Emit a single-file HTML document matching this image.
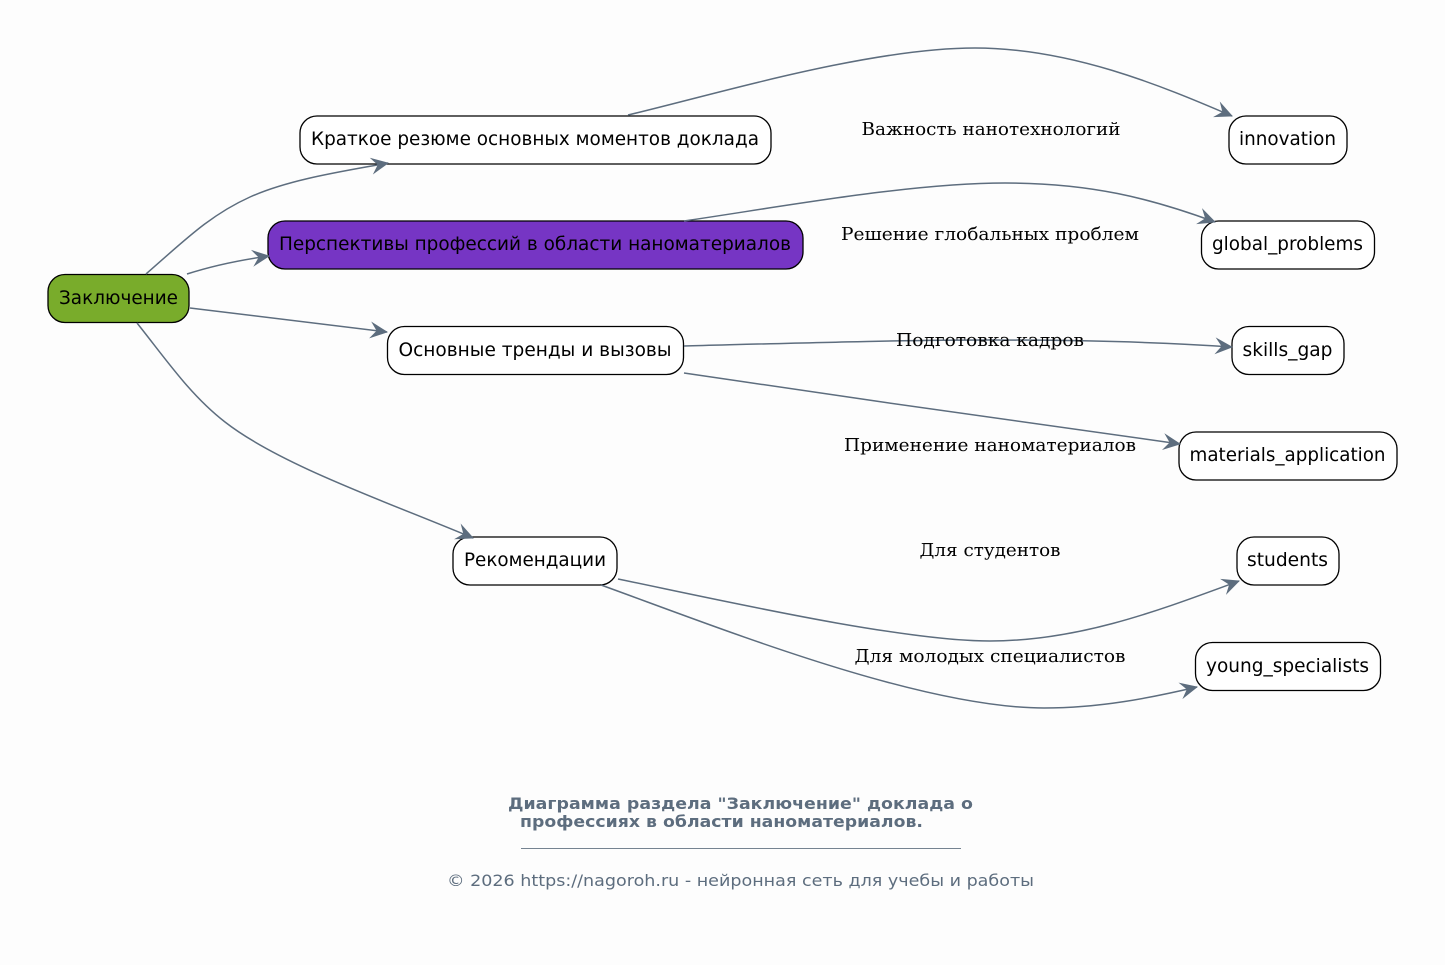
<!DOCTYPE html>
<html><head><meta charset="utf-8"><style>
html,body{margin:0;padding:0;background:#fdfdfd}
svg{display:block}
.n{fill:#fff;stroke:#000;stroke-width:1.3}
.t{font:19px "DejaVu Sans",sans-serif;fill:#000;text-anchor:middle}
.l{font:18px "DejaVu Serif","Liberation Serif",serif;fill:#000;text-anchor:middle}
.e{fill:none;stroke:#5d6d7e;stroke-width:1.5;marker-end:url(#a)}
.c{font:16px "DejaVu Sans",sans-serif;fill:#5d6d7e}
.b{font:bold 16px "DejaVu Sans",sans-serif;fill:#5d6d7e}
</style></head><body>
<svg width="1445" height="965" viewBox="0 0 1445 965" xmlns="http://www.w3.org/2000/svg">
<defs><marker id="a" markerUnits="userSpaceOnUse" markerWidth="24" markerHeight="24" viewBox="0 0 24 24" refX="20" refY="12" orient="auto" overflow="visible"><path d="M21,12 L3,3.5 L9.500,12 L3,20.500 Z" fill="#5d6d7e"/></marker></defs>
<rect width="1445" height="965" fill="#fdfdfd"/>
<rect x="48" y="274.500" width="141" height="48" rx="17" class="n" style="fill:#79ac2b"/>
<rect x="300" y="116" width="471" height="48" rx="17" class="n"/>
<rect x="268" y="221" width="535" height="48" rx="17" class="n" style="fill:#7635c4"/>
<rect x="387.500" y="326.500" width="296" height="48" rx="17" class="n"/>
<rect x="453" y="537" width="164" height="48" rx="17" class="n"/>
<rect x="1229" y="116" width="118" height="48" rx="17" class="n"/>
<rect x="1201.500" y="221" width="173" height="48" rx="17" class="n"/>
<rect x="1232" y="326.500" width="112" height="48" rx="17" class="n"/>
<rect x="1179" y="432" width="218" height="48" rx="17" class="n"/>
<rect x="1237" y="537" width="102" height="48" rx="17" class="n"/>
<rect x="1195.500" y="642.500" width="185" height="48" rx="17" class="n"/>
<path class="e" d="M146,274 C185,240 210,215 250,197 C290,179 345,171 388,163"/>
<path class="e" d="M187,274 C215,265 240,260 269,256"/>
<path class="e" d="M190,308 L387,332"/>
<path class="e" d="M137,323 C165,358 190,395 225,422 C280,465 390,503 473,538"/>
<path class="e" d="M628,115 C720,93 870,48 975,48 C1070,48 1160,85 1232,116"/>
<path class="e" d="M684,221 C780,207 910,183 1005,183 C1090,183 1150,198 1215,222"/>
<path class="e" d="M684,346 C800,343 900,340 990,340 C1080,340 1160,342 1232,347"/>
<path class="e" d="M684,373 C850,398 1010,420 1180,444"/>
<path class="e" d="M618,579 C720,600 900,641 990,641 C1080,641 1160,610 1239,581"/>
<path class="e" d="M601,585 C720,628 920,708 1044,708 C1100,708 1150,698 1197,687"/>
<text class="t" x="118.500" y="304" textLength="119" lengthAdjust="spacingAndGlyphs">Заключение</text>
<text class="t" x="535" y="145" textLength="448" lengthAdjust="spacingAndGlyphs">Краткое резюме основных моментов доклада</text>
<text class="t" x="535" y="250" textLength="512" lengthAdjust="spacingAndGlyphs">Перспективы профессий в области наноматериалов</text>
<text class="t" x="535" y="356" textLength="273" lengthAdjust="spacingAndGlyphs">Основные тренды и вызовы</text>
<text class="t" x="535" y="566" textLength="142" lengthAdjust="spacingAndGlyphs">Рекомендации</text>
<text class="t" x="1287.500" y="145" textLength="97" lengthAdjust="spacingAndGlyphs">innovation</text>
<text class="t" x="1287.500" y="250" textLength="151" lengthAdjust="spacingAndGlyphs">global_problems</text>
<text class="t" x="1287.500" y="356" textLength="90" lengthAdjust="spacingAndGlyphs">skills_gap</text>
<text class="t" x="1287.500" y="461" textLength="196" lengthAdjust="spacingAndGlyphs">materials_application</text>
<text class="t" x="1287.500" y="566" textLength="81" lengthAdjust="spacingAndGlyphs">students</text>
<text class="t" x="1287.500" y="672" textLength="163" lengthAdjust="spacingAndGlyphs">young_specialists</text>
<text class="l" x="991" y="135" textLength="259" lengthAdjust="spacingAndGlyphs">Важность нанотехнологий</text>
<text class="l" x="990" y="240" textLength="298" lengthAdjust="spacingAndGlyphs">Решение глобальных проблем</text>
<text class="l" x="990" y="346" textLength="188" lengthAdjust="spacingAndGlyphs">Подготовка кадров</text>
<text class="l" x="990" y="451" textLength="292" lengthAdjust="spacingAndGlyphs">Применение наноматериалов</text>
<text class="l" x="990" y="556" textLength="141" lengthAdjust="spacingAndGlyphs">Для студентов</text>
<text class="l" x="990" y="662" textLength="271" lengthAdjust="spacingAndGlyphs">Для молодых специалистов</text>
<text class="b" x="508" y="809" textLength="465" lengthAdjust="spacingAndGlyphs">Диаграмма раздела "Заключение" доклада о</text>
<text class="b" x="520" y="827" textLength="403" lengthAdjust="spacingAndGlyphs">профессиях в области наноматериалов.</text>
<rect x="521" y="848" width="440" height="1" fill="#5d6d7e" opacity=".85"/>
<text class="c" x="447" y="886" textLength="587" lengthAdjust="spacingAndGlyphs">© 2026 https://nagoroh.ru - нейронная сеть для учебы и работы</text>
</svg>
</body></html>
